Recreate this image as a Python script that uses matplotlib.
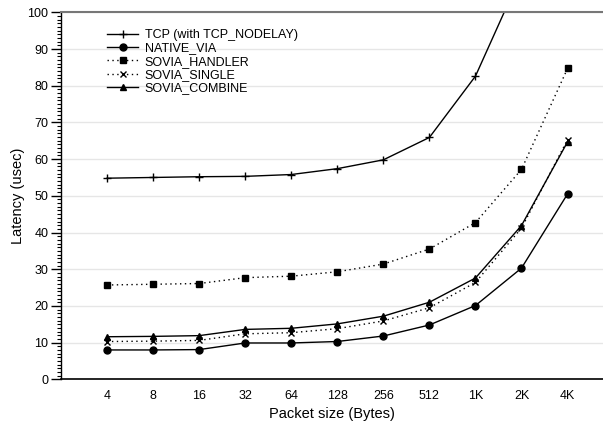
import numpy as np
import matplotlib
matplotlib.use('Agg')
import matplotlib.pyplot as plt
from matplotlib.ticker import MultipleLocator

plt.rcParams['font.family'] = ['Liberation Sans', 'DejaVu Sans']

sizes = ['4', '8', '16', '32', '64', '128', '256', '512', '1K', '2K', '4K']

tcp = [54.8, 55.0, 55.2, 55.3, 55.8, 57.4, 59.8, 65.9, 82.6, 110.5, 150.0]
native_via = [8.0, 8.0, 8.1, 9.9, 9.9, 10.3, 11.8, 14.8, 20.1, 30.3, 50.5]
sovia_handler = [25.7, 25.9, 26.1, 27.7, 28.1, 29.3, 31.4, 35.5, 42.7, 57.2, 84.7]
sovia_single = [10.3, 10.4, 10.6, 12.4, 12.7, 13.8, 15.9, 19.5, 26.4, 41.2, 65.3]
sovia_combine = [11.6, 11.7, 11.9, 13.6, 13.9, 15.1, 17.2, 21.0, 27.6, 41.9, 64.7]


def main():
    fig = plt.figure(figsize=(6.03, 4.26), dpi=100)
    ax = fig.add_axes([0.1012, 0.1096, 0.8988, 0.8615])
    x = np.arange(len(sizes))
    dots = (0, (1, 2.5))

    ax.plot(x, tcp, '-', color='black', lw=1, marker='+', ms=6, mew=1,
            label='TCP (with TCP_NODELAY)')
    ax.plot(x, native_via, '-', color='black', lw=1, marker='o', ms=5,
            label='NATIVE_VIA')
    ax.plot(x, sovia_handler, color='black', lw=1, ls=dots,
            marker='s', ms=5, label='SOVIA_HANDLER')
    ax.plot(x, sovia_single, color='black', lw=1, ls=dots,
            marker='x', ms=5, mew=1, label='SOVIA_SINGLE')
    ax.plot(x, sovia_combine, '-', color='black', lw=1, marker='^', ms=5,
            label='SOVIA_COMBINE')

    ax.set_xlim(-1.0, 10.77)
    ax.set_ylim(0, 100)
    ax.set_xticks(x)
    ax.set_xticklabels(sizes, fontsize=9)
    ax.tick_params(axis='x', length=0, pad=8)
    ax.yaxis.set_major_locator(MultipleLocator(10))
    ax.yaxis.set_minor_locator(MultipleLocator(1))
    ax.tick_params(axis='y', which='major', length=7, width=1, labelsize=9, pad=2)
    ax.tick_params(axis='y', which='minor', length=3, width=0.8)

    ax.grid(axis='y', color='#e6e6e6', lw=1)
    ax.set_axisbelow(True)
    ax.spines['right'].set_visible(False)
    ax.spines['top'].set_color('#777777')
    ax.spines['top'].set_linewidth(1.5)
    ax.spines['bottom'].set_linewidth(1.2)
    ax.spines['left'].set_linewidth(1.0)

    ax.set_xlabel('Packet size (Bytes)', fontsize=10.5, labelpad=3)
    ax.set_ylabel('Latency (usec)', fontsize=10.5, labelpad=2)

    ax.legend(loc='upper left', bbox_to_anchor=(0.085, 0.954), frameon=False,
              fontsize=9, handlelength=2.5, handletextpad=0.5,
              labelspacing=0.1, borderpad=0, borderaxespad=0)

    fig.savefig('out.png', dpi=100)


if __name__ == "__main__":
    main()
